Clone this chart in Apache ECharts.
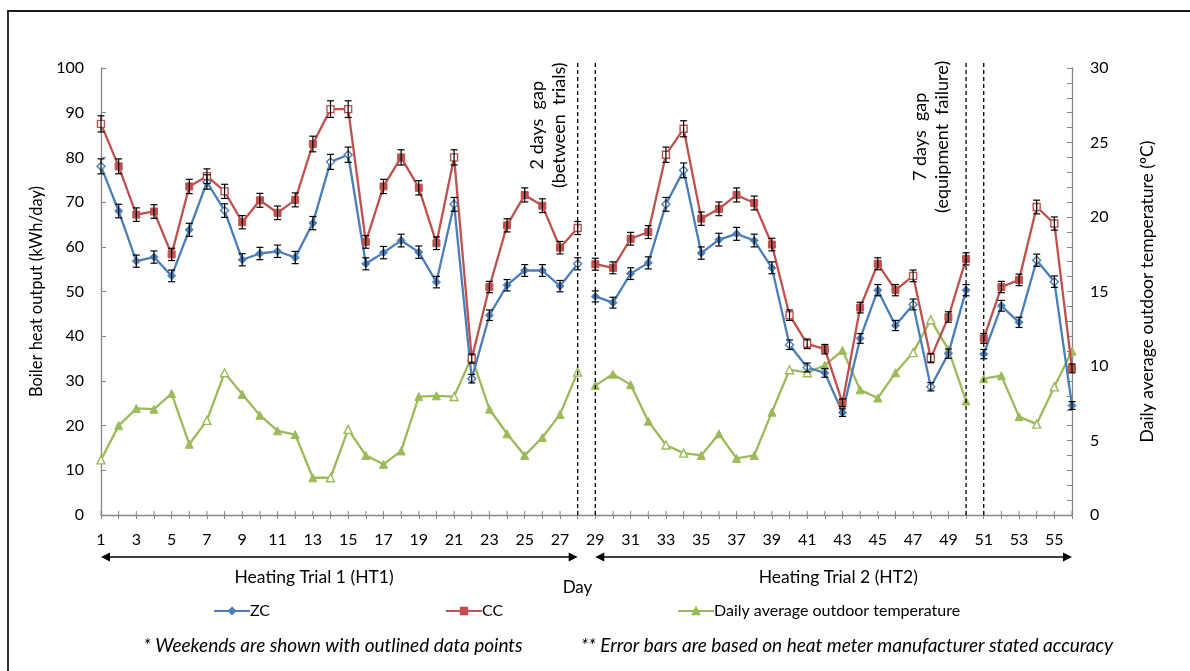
<!DOCTYPE html>
<html>
<head>
<meta charset="utf-8">
<script src="https://cdn.jsdelivr.net/npm/echarts@6/dist/echarts.min.js"></script>
<style>
  html, body { margin: 0; padding: 0; background: #fff; }
  #chart { width: 1190px; height: 671px; }
</style>
</head>
<body>
<div id="chart"></div>
<script>
// ---- Data -------------------------------------------------------------
const DAYS = [1, 2, 3, 4, 5, 6, 7, 8, 9, 10, 11, 12, 13, 14, 15, 16, 17, 18, 19, 20,
  21, 22, 23, 24, 25, 26, 27, 28, 29, 30, 31, 32, 33, 34, 35, 36, 37, 38, 39, 40,
  41, 42, 43, 44, 45, 46, 47, 48, 49, 50, 51, 52, 53, 54, 55, 56];

// Boiler heat output, kWh/day
const ZC = [78.0, 68.0, 56.8, 57.7, 53.5, 63.8, 74.5, 68.1, 57.1, 58.5,
  59.0, 57.6, 65.3, 79.0, 80.6, 56.2, 58.7, 61.4, 58.8, 52.1,
  69.5, 30.5, 44.7, 51.4, 54.7, 54.7, 51.2, 56.2, 48.9, 47.5,
  54.0, 56.4, 69.5, 77.1, 58.6, 61.6, 62.9, 61.4, 55.3, 38.1,
  33.0, 31.8, 22.9, 39.5, 50.3, 42.4, 47.1, 28.7, 36.1, 50.3,
  36.0, 46.8, 43.1, 57.0, 52.2, 24.5];

const CC = [87.5, 78.0, 67.2, 67.9, 58.3, 73.5, 75.8, 72.4, 65.5, 70.4,
  67.6, 70.5, 83.0, 90.8, 90.8, 61.1, 73.5, 80.0, 73.2, 60.8,
  80.0, 35.0, 51.0, 64.8, 71.6, 69.2, 59.8, 64.2, 56.1, 55.3,
  61.8, 63.3, 80.6, 86.4, 66.3, 68.5, 71.6, 69.8, 60.5, 44.7,
  38.3, 37.1, 25.1, 46.4, 56.2, 50.3, 53.5, 35.1, 44.3, 57.3,
  39.5, 51.0, 52.6, 68.9, 65.2, 32.8];

// Daily average outdoor temperature, °C
const OUTDOOR_TEMP = [3.7, 6.0, 7.15, 7.1, 8.15, 4.75, 6.35, 9.55, 8.1, 6.7,
  5.65, 5.4, 2.5, 2.5, 5.75, 4.0, 3.4, 4.3, 7.95, 8.0,
  7.95, 10.6, 7.1, 5.45, 4.0, 5.2, 6.75, 9.6, 8.7, 9.45,
  8.75, 6.3, 4.7, 4.15, 4.0, 5.45, 3.8, 4.0, 6.9, 9.75,
  9.55, 10.05, 11.05, 8.4, 7.85, 9.55, 10.9, 13.1, 11.1, 7.65,
  9.15, 9.35, 6.6, 6.1, 8.6, 11.0];

const WEEKEND_DAYS = [1, 7, 8, 14, 15, 21, 22, 28, 33, 34, 40, 41, 47, 48, 54, 55];
const BREAK_AFTER_DAYS = [28, 50];          // monitoring interrupted after these days
const GAP_EDGE_DAYS = [28, 29, 50, 51];     // dashed separators
const GAP_NOTES = ['2 days  gap\n(between  trials)', '7 days  gap\n(equipment  failure)'];
const TRIAL_SPANS = [[1, 28], [29, 56]];
const TRIAL_NAMES = ['Heating Trial 1 (HT1)', 'Heating Trial 2 (HT2)'];
const X_TICK_LABELS_EVERY = 2;

// Heat meter accuracy used for the error bars
const METER_ERROR_PCT = 1.5;
const METER_ERROR_FIXED = 0.5;

const SERIES_NAMES = ['ZC', 'CC', 'Daily average outdoor temperature'];
const FOOTNOTES = ['* Weekends are shown with outlined data points',
  '** Error bars are based on heat meter manufacturer stated accuracy'];

// ---- Layout / style ----------------------------------------------------
const FONT = 'Lato, "Open Sans", sans-serif';
const AXIS_GREY = '#868686';
const COLORS = { zc: '#4a7ebb', cc: '#c0504d', temp: '#9bbb59' };
const NOTE_ANCHORS = [[26.33, 87.2], [48.0, 84.6]];   // centre of each gap note (day, kWh)
const TRIAL_LABEL_DAYS = [13.07, 42.76];

// ---- Helpers -----------------------------------------------------------
function lineData(values, color) {
  const out = [];
  DAYS.forEach((d, i) => {
    const item = { value: [d, values[i]] };
    if (WEEKEND_DAYS.includes(d)) {
      item.itemStyle = { color: '#ffffff', borderColor: color, borderWidth: 1.4 };
    }
    out.push(item);
    if (BREAK_AFTER_DAYS.includes(d)) out.push({ value: [d + 0.5, '-'] });
  });
  return out;
}

const errorData = [];
[ZC, CC].forEach(vals => {
  DAYS.forEach((d, i) => {
    const v = vals[i];
    errorData.push([d, v, METER_ERROR_FIXED + v * METER_ERROR_PCT / 100]);
  });
});

const chart = echarts.init(document.getElementById('chart'), null, { renderer: 'canvas' });

const option = {
  backgroundColor: '#ffffff',
  animation: false,
  textStyle: { fontFamily: FONT, color: '#000' },
  grid: { left: 101, right: 118, top: 68, bottom: 156, outerBoundsMode: 'none', containLabel: false },
  xAxis: {
    type: 'value', min: 1, max: 56, interval: 1,
    name: 'Day', nameLocation: 'middle', nameGap: 64,
    nameTextStyle: { fontSize: 17, color: '#000', fontFamily: FONT, padding: [0, 18, 0, 0] },
    axisLine: { show: true, lineStyle: { color: AXIS_GREY, width: 1.3 } },
    axisTick: { show: true, inside: false, length: 4, lineStyle: { color: AXIS_GREY, width: 1 } },
    axisLabel: {
      fontSize: 16, color: '#000', fontFamily: FONT, margin: 17,
      formatter: v => ((v - 1) % X_TICK_LABELS_EVERY === 0 ? String(v) : '')
    },
    splitLine: { show: false }
  },
  yAxis: [
    {
      type: 'value', min: 0, max: 100, interval: 10, position: 'left',
      name: 'Boiler heat output (kWh/day)', nameLocation: 'middle', nameGap: 52, nameRotate: 90,
      nameTextStyle: { fontSize: 16.5, color: '#000', fontFamily: FONT },
      axisLine: { show: true, lineStyle: { color: AXIS_GREY, width: 1.3 } },
      axisTick: { show: true, inside: true, length: 5, lineStyle: { color: AXIS_GREY } },
      axisLabel: { fontSize: 16, color: '#000', fontFamily: FONT, margin: 17 },
      splitLine: { show: false }
    },
    {
      type: 'value', min: 0, max: 30, interval: 5, position: 'right',
      name: 'Daily average outdoor temperature (ºC)', nameLocation: 'middle', nameGap: 66, nameRotate: 90,
      nameTextStyle: { fontSize: 17.5, color: '#000', fontFamily: FONT },
      axisLine: { show: true, lineStyle: { color: AXIS_GREY, width: 1.3 } },
      axisTick: { show: true, inside: true, length: 5, lineStyle: { color: AXIS_GREY } },
      minorTick: { show: true, splitNumber: 5, length: 5, lineStyle: { color: AXIS_GREY } },
      axisLabel: { fontSize: 16, color: '#000', fontFamily: FONT, margin: 18 },
      splitLine: { show: false }
    }
  ],
  legend: SERIES_NAMES.map((name, i) => ({
    data: [name],
    left: [208, 440, 672][i], top: 598,
    itemWidth: 36, itemHeight: 8, itemGap: 0,
    textStyle: { fontSize: 16, color: '#000', fontFamily: FONT, padding: [0, 0, 0, -5] },
    selectedMode: false
  })),
  graphic: [
    {
      type: 'rect', silent: true, z: 100,
      shape: { x: 8, y: 11, width: 1400, height: 900 },
      style: { fill: 'none', stroke: '#1a1a1a', lineWidth: 1.8 }
    },
    {
      type: 'text', x: 333, y: 646, silent: true,
      style: { text: FOOTNOTES[0], fontFamily: FONT, fontStyle: 'italic', fontSize: 19, fill: '#000', align: 'center', verticalAlign: 'middle' }
    },
    {
      type: 'text', x: 847, y: 646, silent: true,
      style: { text: FOOTNOTES[1], fontFamily: FONT, fontStyle: 'italic', fontSize: 19, fill: '#000', align: 'center', verticalAlign: 'middle' }
    }
  ],
  series: [
    {
      name: SERIES_NAMES[0], type: 'line', yAxisIndex: 0, z: 3,
      data: lineData(ZC, COLORS.zc),
      symbol: 'diamond', symbolSize: 8, showAllSymbol: true,
      lineStyle: { color: COLORS.zc, width: 2.3 },
      itemStyle: { color: COLORS.zc, borderColor: COLORS.zc, borderWidth: 1 },
      connectNulls: false
    },
    {
      name: SERIES_NAMES[1], type: 'line', yAxisIndex: 0, z: 3,
      data: lineData(CC, COLORS.cc),
      symbol: 'rect', symbolSize: 7, showAllSymbol: true,
      lineStyle: { color: COLORS.cc, width: 2.3 },
      itemStyle: { color: COLORS.cc, borderColor: COLORS.cc, borderWidth: 1 },
      connectNulls: false
    },
    {
      name: SERIES_NAMES[2], type: 'line', yAxisIndex: 1, z: 2,
      data: lineData(OUTDOOR_TEMP, COLORS.temp),
      symbol: 'triangle', symbolSize: 8, showAllSymbol: true,
      lineStyle: { color: COLORS.temp, width: 2.3 },
      itemStyle: { color: COLORS.temp, borderColor: COLORS.temp, borderWidth: 1 },
      connectNulls: false
    },
    {
      // meter accuracy error bars
      type: 'custom', yAxisIndex: 0, z: 5, silent: true, clip: false,
      data: errorData,
      renderItem(params, api) {
        const x = api.value(0), v = api.value(1), e = api.value(2);
        const top = api.coord([x, v + e]);
        const bot = api.coord([x, v - e]);
        const cap = 3.5;
        const st = { stroke: '#000', lineWidth: 1.2, fill: null };
        return {
          type: 'group',
          children: [
            { type: 'line', shape: { x1: top[0], y1: top[1], x2: bot[0], y2: bot[1] }, style: st },
            { type: 'line', shape: { x1: top[0] - cap, y1: top[1], x2: top[0] + cap, y2: top[1] }, style: st },
            { type: 'line', shape: { x1: bot[0] - cap, y1: bot[1], x2: bot[0] + cap, y2: bot[1] }, style: st }
          ]
        };
      }
    },
    {
      // upper half of the day ticks (ticks cross the axis)
      type: 'custom', yAxisIndex: 0, z: 1, silent: true, clip: false,
      data: DAYS.map(d => [d, 0]),
      renderItem(params, api) {
        const p = api.coord([api.value(0), 0]);
        return { type: 'line', shape: { x1: p[0], y1: p[1], x2: p[0], y2: p[1] - 4 }, style: { stroke: AXIS_GREY, lineWidth: 1 } };
      }
    },
    {
      // dashed separators around the monitoring gaps
      type: 'custom', yAxisIndex: 0, z: 4, silent: true, clip: false,
      data: GAP_EDGE_DAYS.map(d => [d, 0]),
      renderItem(params, api) {
        const x = api.value(0);
        const b = api.coord([x, 0]);
        const t = api.coord([x, 101.2]);
        return { type: 'line', shape: { x1: b[0], y1: b[1], x2: t[0], y2: t[1] }, style: { stroke: '#000', lineWidth: 1.3, lineDash: [4, 3] } };
      }
    },
    {
      // gap notes
      type: 'custom', yAxisIndex: 0, z: 4, silent: true, clip: false,
      data: NOTE_ANCHORS,
      renderItem(params, api) {
        const p = api.coord([api.value(0), api.value(1)]);
        return {
          type: 'text', x: p[0], y: p[1], rotation: Math.PI / 2,
          style: { text: GAP_NOTES[params.dataIndex], fill: '#000', fontFamily: FONT, fontSize: 18, align: 'center', verticalAlign: 'middle', lineHeight: 22 }
        };
      }
    },
    {
      // heating trial spans below the axis
      type: 'custom', yAxisIndex: 0, z: 4, silent: true, clip: false,
      data: TRIAL_SPANS.map((s, i) => [s[0], s[1], TRIAL_LABEL_DAYS[i]]),
      renderItem(params, api) {
        const a = api.coord([api.value(0), 0]);
        const b = api.coord([api.value(1), 0]);
        const lc = api.coord([api.value(2), 0]);
        const y = a[1] + 42;
        const L = 9, H = 4.5;
        return {
          type: 'group',
          children: [
            { type: 'line', shape: { x1: a[0] + 4, y1: y, x2: b[0] - 4, y2: y }, style: { stroke: '#000', lineWidth: 1.6 } },
            { type: 'polygon', shape: { points: [[a[0], y], [a[0] + L, y - H], [a[0] + L, y + H]] }, style: { fill: '#000' } },
            { type: 'polygon', shape: { points: [[b[0], y], [b[0] - L, y - H], [b[0] - L, y + H]] }, style: { fill: '#000' } },
            { type: 'text', x: lc[0], y: a[1] + 62, style: { text: TRIAL_NAMES[params.dataIndex], fill: '#000', fontFamily: FONT, fontSize: 17.5, align: 'center', verticalAlign: 'middle' } }
          ]
        };
      }
    }
  ]
};

chart.setOption(option);
</script>
</body>
</html>
